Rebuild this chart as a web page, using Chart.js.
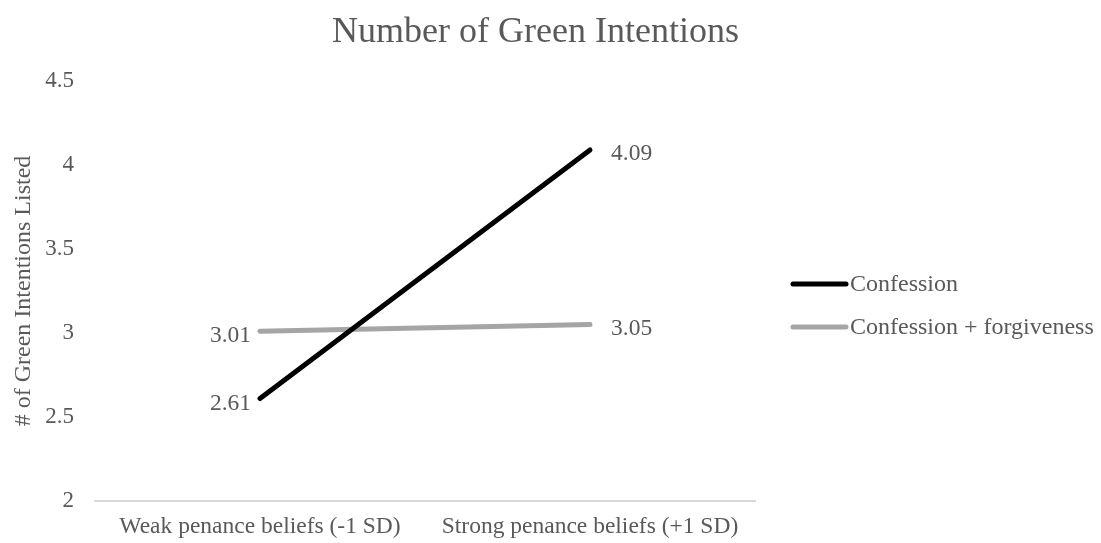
<!DOCTYPE html>
<html>
<head>
<meta charset="utf-8">
<script src="https://cdn.jsdelivr.net/npm/chart.js@4.4.1/dist/chart.umd.min.js"></script>
<style>
  html, body { margin: 0; padding: 0; background: #ffffff; }
  #wrap { width: 1101px; height: 543px; position: relative; }
</style>
</head>
<body>
<div id="wrap"><canvas id="chart"></canvas></div>
<script>
// Chart content
const chartTitle = 'Number of Green Intentions';
const yAxisTitle = '# of Green Intentions Listed';
const categories = ['Weak penance beliefs (-1 SD)', 'Strong penance beliefs (+1 SD)'];
const seriesNames = ['Confession', 'Confession + forgiveness'];
const confession = [2.61, 4.09];
const confessionForgiveness = [3.01, 3.05];
const yTicks = [2, 2.5, 3, 3.5, 4, 4.5];

const TEXT = '#595959';
const FONT = "'Liberation Serif', 'Times New Roman', serif";

// Title drawn above the plot, slightly left of the canvas centre
const titlePlugin = {
  id: 'chartTitle',
  afterDraw(chart) {
    const ctx = chart.ctx;
    ctx.save();
    ctx.font = '36px ' + FONT;
    ctx.fillStyle = TEXT;
    ctx.textAlign = 'center';
    ctx.textBaseline = 'alphabetic';
    ctx.fillText(chartTitle, chart.width / 2 - 15, 42);
    ctx.restore();
  }
};

// Value labels next to each line end
const valueLabels = {
  id: 'valueLabels',
  afterDatasetsDraw(chart) {
    const ctx = chart.ctx;
    ctx.save();
    ctx.font = '23.5px ' + FONT;
    ctx.fillStyle = TEXT;
    ctx.textBaseline = 'middle';
    chart.data.datasets.forEach((ds, di) => {
      const meta = chart.getDatasetMeta(di);
      meta.data.forEach((pt, i) => {
        const txt = ds.data[i].toFixed(2);
        if (i === 0) {
          ctx.textAlign = 'right';
          ctx.fillText(txt, pt.x - 9, pt.y + 5);
        } else {
          ctx.textAlign = 'left';
          ctx.fillText(txt, pt.x + 21, pt.y + 4);
        }
      });
    });
    ctx.restore();
  }
};

// Legend to the right of the plot
const sideLegend = {
  id: 'sideLegend',
  afterDraw(chart) {
    const ctx = chart.ctx;
    const x0 = chart.chartArea.right + 38;
    const top = 284;
    const gap = 43;
    ctx.save();
    ctx.font = '24px ' + FONT;
    ctx.textAlign = 'left';
    ctx.textBaseline = 'middle';
    chart.data.datasets.forEach((ds, i) => {
      const y = top + i * gap;
      ctx.strokeStyle = ds.borderColor;
      ctx.lineWidth = 5;
      ctx.lineCap = 'round';
      ctx.beginPath();
      ctx.moveTo(x0, y);
      ctx.lineTo(x0 + 53, y);
      ctx.stroke();
      ctx.fillStyle = TEXT;
      ctx.fillText(ds.label, x0 + 57, y + 1);
    });
    ctx.restore();
  }
};

new Chart(document.getElementById('chart'), {
  type: 'line',
  data: {
    labels: categories,
    datasets: [
      {
        label: seriesNames[0],
        data: confession,
        borderColor: '#000000',
        backgroundColor: '#000000',
        borderWidth: 5,
        borderCapStyle: 'round',
        pointRadius: 0,
        tension: 0
      },
      {
        label: seriesNames[1],
        data: confessionForgiveness,
        borderColor: '#A5A5A5',
        backgroundColor: '#A5A5A5',
        borderWidth: 5,
        borderCapStyle: 'round',
        pointRadius: 0,
        tension: 0
      }
    ]
  },
  options: {
    responsive: true,
    maintainAspectRatio: false,
    animation: false,
    layout: { padding: { top: 81, right: 346, bottom: 0, left: 0 } },
    plugins: {
      legend: { display: false },
      title: { display: false },
      tooltip: { enabled: false }
    },
    scales: {
      x: {
        offset: true,
        grid: { display: false, drawTicks: false },
        border: { display: true, color: '#D9D9D9', width: 2 },
        ticks: { color: TEXT, font: { family: FONT, size: 23.5 }, padding: 12, maxRotation: 0 },
        afterFit(scale) { scale.height = 42; }
      },
      y: {
        min: yTicks[0],
        max: yTicks[yTicks.length - 1],
        afterBuildTicks(scale) { scale.ticks = yTicks.map(v => ({ value: v })); },
        grid: { display: false, drawTicks: false },
        border: { display: false },
        ticks: {
          color: TEXT,
          font: { family: FONT, size: 23 },
          padding: 21,
          callback: (v) => String(v)
        },
        title: {
          display: true,
          text: yAxisTitle,
          color: TEXT,
          font: { family: FONT, size: 24 },
          padding: { top: 9, bottom: 0 }
        },
        afterFit(scale) { scale.width = 95; }
      }
    }
  },
  plugins: [titlePlugin, valueLabels, sideLegend]
});
</script>
</body>
</html>
